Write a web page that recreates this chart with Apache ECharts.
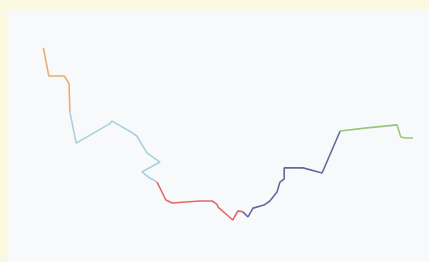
<!DOCTYPE html>
<html lang="en">
  <head>
    <meta charset="UTF-8" />
    <title>eCharts</title>
    <script src="https://cdn.jsdelivr.net/npm/echarts@6/dist/echarts.min.js"></script>
    <style>
      html, body { margin: 0; padding: 0; background: #faf9df; }
    </style>
  </head>
  <body>
    <div id="main" style="width: 429px; height: 262px"></div>
    <script type="text/javascript">
      // path points (x and y on a 0-100 scale)
      const xs = [8.4, 9.7, 13.4, 14.5, 14.7, 16.2, 24.0, 24.7, 29.2, 30.6,
        33.0, 36.1, 31.8, 33.3, 35.4, 37.5, 39.0, 45.6, 48.5, 49.6,
        49.9, 53.4, 54.6, 55.8, 57.0, 58.2, 60.8, 62.2, 63.9, 64.6,
        65.6, 65.6, 70.1, 74.6, 78.9, 85.3, 92.4, 93.3, 94.3, 96.2];
      const ys = [84.6, 73.5, 73.5, 70.4, 59.3, 47.0, 54.5, 55.7, 51.4, 49.8,
        43.1, 39.5, 35.6, 33.6, 31.6, 24.5, 23.3, 24.1, 24.1, 22.9,
        21.7, 16.6, 20.2, 19.8, 17.8, 21.3, 22.5, 24.1, 27.7, 31.6,
        32.8, 37.2, 37.2, 35.2, 51.8, 53.0, 54.2, 49.4, 49.0, 49.0];
      // index where each coloured piece starts / ends
      const breaks = [0, 4, 14, 23, 34, 39];
      const colors = ["#e9ac74", "#a6d2de", "#e06a6a", "#68689a", "#98c67a"];

      let points = xs.map((x, i) => [x, ys[i]]);
      let series = [];
      for (let i = 0; i < colors.length; i++) {
        series.push({
          type: "line",
          data: points.slice(breaks[i], breaks[i + 1] + 1),
          showSymbol: false,
          lineStyle: { color: colors[i], width: 1.6 },
        });
      }

      let myChart = echarts.init(document.getElementById("main"));
      myChart.setOption({
        animation: false,
        backgroundColor: "#faf9df",
        grid: {
          left: 8, top: 9, right: 0, bottom: 0,
          show: true, backgroundColor: "#f7f9fb", borderWidth: 0,
        },
        xAxis: { type: "value", min: 0, max: 100, show: false },
        yAxis: { type: "value", min: 0, max: 100, show: false },
        series: series,
      });
    </script>
  </body>
</html>
